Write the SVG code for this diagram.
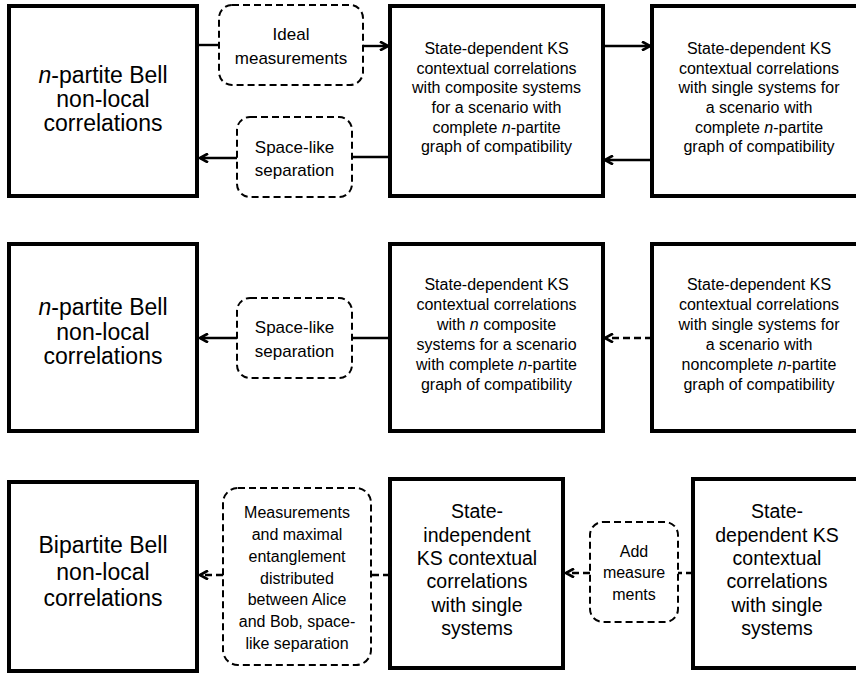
<svg xmlns="http://www.w3.org/2000/svg" width="856" height="675" viewBox="0 0 856 675">
<style>
.box{fill:#fff;stroke:#000;stroke-width:4}
.dbox{fill:#fff;stroke:#000;stroke-width:2;stroke-dasharray:7 4}
.ln{fill:none;stroke:#000;stroke-width:2.4}
.dln{fill:none;stroke:#000;stroke-width:2.4;stroke-dasharray:7 4}
text{font-family:"Liberation Sans",Arial,sans-serif;fill:#000;text-anchor:middle}
.big{font-size:23px}
.sm{font-size:16px}
.lbl{font-size:17px}
.mid{font-size:19.5px}
.i{font-style:italic}
</style>
<defs>
<marker id="arr" viewBox="0 0 10 10" refX="9" refY="5" markerWidth="10" markerHeight="10" markerUnits="userSpaceOnUse" orient="auto">
<path d="M1,0.5 L9,5 L1,9.5" fill="none" stroke="#000" stroke-width="2.6" stroke-dasharray="none"/>
</marker>
</defs>
<g id="connectors">
<path class="ln" d="M197,45 H219"/>
<path class="ln" d="M363,46 H388" marker-end="url(#arr)"/>
<path class="ln" d="M390,157 H352"/>
<path class="ln" d="M237,158 H200" marker-end="url(#arr)"/>
<path class="ln" d="M603,46 H650" marker-end="url(#arr)"/>
<path class="ln" d="M652,160 H605" marker-end="url(#arr)"/>
<path class="ln" d="M390,338 H352"/>
<path class="ln" d="M237,338 H200" marker-end="url(#arr)"/>
<path class="dln" d="M652,338 H605" marker-end="url(#arr)"/>
<path class="dln" d="M390,575 H371"/>
<path class="dln" d="M223,575 H200" marker-end="url(#arr)"/>
<path class="dln" d="M693,573 H678"/>
<path class="dln" d="M590,573 H566" marker-end="url(#arr)"/>
</g>
<g id="n1"><rect class="box" x="9" y="6" width="188" height="190"/>
<text class="big" x="103" y="83"><tspan class="i">n</tspan>-partite Bell</text>
<text class="big" x="103" y="107">non-local</text>
<text class="big" x="103" y="131">correlations</text></g>
<g id="e1"><rect class="dbox" x="219" y="5" width="144" height="80" rx="13"/>
<text class="lbl" x="291" y="40">Ideal</text>
<text class="lbl" x="291" y="64">measurements</text></g>
<g id="e2"><rect class="dbox" x="237" y="117" width="115" height="80" rx="13"/>
<text class="lbl" x="294.5" y="153">Space-like</text>
<text class="lbl" x="294.5" y="176">separation</text></g>
<g id="n2"><rect class="box" x="390" y="6" width="213" height="190"/>
<text class="sm" x="496.5" y="54">State-dependent KS</text>
<text class="sm" x="496.5" y="73.5">contextual correlations</text>
<text class="sm" x="496.5" y="93">with composite systems</text>
<text class="sm" x="496.5" y="113">for a scenario with</text>
<text class="sm" x="496.5" y="132.5">complete <tspan class="i">n</tspan>-partite</text>
<text class="sm" x="496.5" y="152">graph of compatibility</text></g>
<g id="n3"><rect class="box" x="652" y="6" width="214" height="190"/>
<text class="sm" x="759" y="54">State-dependent KS</text>
<text class="sm" x="759" y="73.5">contextual correlations</text>
<text class="sm" x="759" y="93">with single systems for</text>
<text class="sm" x="759" y="113">a scenario with</text>
<text class="sm" x="759" y="132.5">complete <tspan class="i">n</tspan>-partite</text>
<text class="sm" x="759" y="152">graph of compatibility</text></g>
<g id="n4"><rect class="box" x="9" y="244" width="188" height="187"/>
<text class="big" x="103" y="315"><tspan class="i">n</tspan>-partite Bell</text>
<text class="big" x="103" y="339.5">non-local</text>
<text class="big" x="103" y="364">correlations</text></g>
<g id="e3"><rect class="dbox" x="237" y="298" width="115" height="80" rx="13"/>
<text class="lbl" x="294.5" y="333">Space-like</text>
<text class="lbl" x="294.5" y="357">separation</text></g>
<g id="n5"><rect class="box" x="390" y="244" width="213" height="187"/>
<text class="sm" x="496.5" y="290">State-dependent KS</text>
<text class="sm" x="496.5" y="310">contextual correlations</text>
<text class="sm" x="496.5" y="330">with <tspan class="i">n</tspan> composite</text>
<text class="sm" x="496.5" y="350">systems for a scenario</text>
<text class="sm" x="496.5" y="370">with complete <tspan class="i">n</tspan>-partite</text>
<text class="sm" x="496.5" y="390">graph of compatibility</text></g>
<g id="n6"><rect class="box" x="652" y="244" width="214" height="187"/>
<text class="sm" x="759" y="290">State-dependent KS</text>
<text class="sm" x="759" y="310">contextual correlations</text>
<text class="sm" x="759" y="330">with single systems for</text>
<text class="sm" x="759" y="350">a scenario with</text>
<text class="sm" x="759" y="370">noncomplete <tspan class="i">n</tspan>-partite</text>
<text class="sm" x="759" y="390">graph of compatibility</text></g>
<g id="n7"><rect class="box" x="9" y="482" width="188" height="189"/>
<text class="big" x="103" y="553">Bipartite Bell</text>
<text class="big" x="103" y="579.5">non-local</text>
<text class="big" x="103" y="606">correlations</text></g>
<g id="e4"><rect class="dbox" x="223" y="488" width="148" height="177" rx="15"/>
<text class="sm" x="297" y="518">Measurements</text>
<text class="sm" x="297" y="540">and maximal</text>
<text class="sm" x="297" y="561.5">entanglement</text>
<text class="sm" x="297" y="583.5">distributed</text>
<text class="sm" x="297" y="605">between Alice</text>
<text class="sm" x="297" y="627">and Bob, space-</text>
<text class="sm" x="297" y="649">like separation</text></g>
<g id="n8"><rect class="box" x="390" y="479" width="173" height="189"/>
<text class="mid" x="477" y="518">State-</text>
<text class="mid" x="477" y="541.5">independent</text>
<text class="mid" x="477" y="565">KS contextual</text>
<text class="mid" x="477" y="588">correlations</text>
<text class="mid" x="477" y="611.5">with single</text>
<text class="mid" x="477" y="635">systems</text></g>
<g id="e5"><rect class="dbox" x="590" y="522" width="88" height="100" rx="13"/>
<text class="sm" x="634" y="557">Add</text>
<text class="sm" x="634" y="578">measure</text>
<text class="sm" x="634" y="600">ments</text></g>
<g id="n9"><rect class="box" x="693" y="479" width="175" height="189"/>
<text class="mid" x="777" y="518">State-</text>
<text class="mid" x="777" y="541.5">dependent KS</text>
<text class="mid" x="777" y="565">contextual</text>
<text class="mid" x="777" y="588">correlations</text>
<text class="mid" x="777" y="611.5">with single</text>
<text class="mid" x="777" y="635">systems</text></g>
</svg>
